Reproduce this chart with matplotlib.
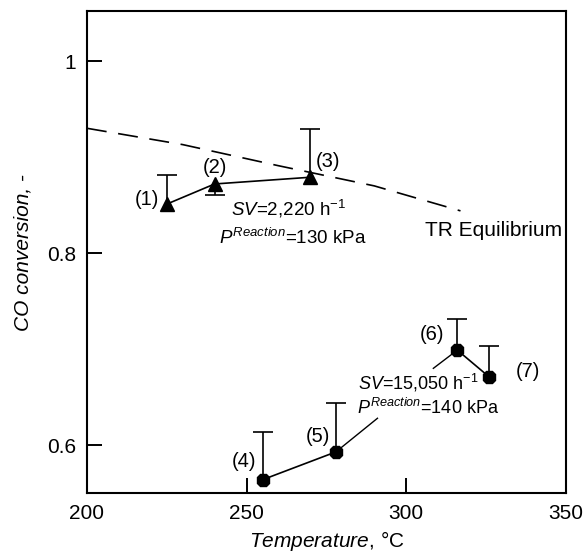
import matplotlib
matplotlib.use("Agg")
import matplotlib.pyplot as plt

plt.rcParams['font.family'] = ['Liberation Sans', 'DejaVu Sans']
plt.rcParams['mathtext.fontset'] = 'custom'
plt.rcParams['mathtext.rm'] = 'Liberation Sans'
plt.rcParams['mathtext.it'] = 'Liberation Sans:italic'

# low space velocity series (triangles)
temp_a = [225, 240, 270]
conv_a = [0.851, 0.872, 0.879]
err_lo_a = [0, 0.012, 0]
err_hi_a = [0.030, 0, 0.050]
labels_a = ['(1)', '(2)', '(3)']

# high space velocity series (octagons)
temp_b = [255, 278, 316, 326]
conv_b = [0.564, 0.593, 0.699, 0.671]
err_lo_b = [0, 0, 0, 0]
err_hi_b = [0.050, 0.051, 0.032, 0.032]
labels_b = ['(4)', '(5)', '(6)', '(7)']

# equilibrium curve
temp_eq = [200, 230, 260, 290, 317]
conv_eq = [0.930, 0.913, 0.891, 0.870, 0.844]

fig = plt.figure(figsize=(5.87, 5.56), dpi=100)
ax = fig.add_axes([0.148, 0.113, 0.816, 0.867])

ax.plot(temp_eq, conv_eq, color='black', lw=1.2, dashes=(12, 7))


def one_sided_err(x, y, lo, hi):
    # draw only the cap on the side that actually has an error bar
    for xi, yi, l, h in zip(x, y, lo, hi):
        eb = ax.errorbar([xi], [yi], yerr=[[l], [h]], fmt='none', ecolor='black',
                         elinewidth=1.2, capsize=7, capthick=1.2)
        caps = eb[1]
        if l == 0:
            caps[0].set_visible(False)
        if h == 0:
            caps[1].set_visible(False)


one_sided_err(temp_a, conv_a, err_lo_a, err_hi_a)
one_sided_err(temp_b, conv_b, err_lo_b, err_hi_b)

ax.plot(temp_a, conv_a, '-^', color='black', ms=10, lw=1.2)
# (4)-(5) and (6)-(7) are joined, (5)-(6) are not
ax.plot(temp_b[:2], conv_b[:2], '-8', color='black', ms=10, lw=1.2)
ax.plot(temp_b[2:], conv_b[2:], '-8', color='black', ms=10, lw=1.2)

offs_a = [(-14, 3), (0, 12), (13, 11)]
for x, y, t, o in zip(temp_a, conv_a, labels_a, offs_a):
    ax.annotate(t, (x, y), xytext=o, textcoords='offset points',
                ha='center', va='center', fontsize=14.5)
offs_b = [(-13, 13), (-13, 11), (-18, 11), (28, 4)]
for x, y, t, o in zip(temp_b, conv_b, labels_b, offs_b):
    ax.annotate(t, (x, y), xytext=o, textcoords='offset points',
                ha='center', va='center', fontsize=14.5)

# leader lines to the lower annotation
ax.plot([temp_b[1], 291], [conv_b[1], 0.628], color='black', lw=1)
ax.plot([temp_b[2], 308.5], [conv_b[2], 0.680], color='black', lw=1)

ax.text(245.1, 0.846, r'$SV$=2,220 h$^{-1}$', fontsize=13.5, va='center')
ax.text(241.4, 0.8156, r'$P^{Reaction}$=130 kPa', fontsize=13.5, va='center')
ax.text(285, 0.665, r'$SV$=15,050 h$^{-1}$', fontsize=13, va='center')
ax.text(284.6, 0.6385, r'$P^{Reaction}$=140 kPa', fontsize=13, va='center')
ax.text(306, 0.824, 'TR Equilibrium', fontsize=15, va='center')

ax.set_xlim(200, 350)
ax.set_ylim(0.55, 1.052)
ax.set_xticks([200, 250, 300, 350])
ax.set_yticks([0.6, 0.8, 1.0])
ax.set_yticklabels(['0.6', '0.8', '1'])
ax.tick_params(direction='in', length=11, width=1.4, labelsize=15, pad=8,
               top=False, right=False)
for s in ax.spines.values():
    s.set_linewidth(1.5)

ax.set_xlabel(r'$Temperature$, °C', fontsize=15, labelpad=4)
ax.set_ylabel('CO conversion, -', fontsize=15, style='italic', labelpad=10)

fig.savefig('out.png', dpi=100)
